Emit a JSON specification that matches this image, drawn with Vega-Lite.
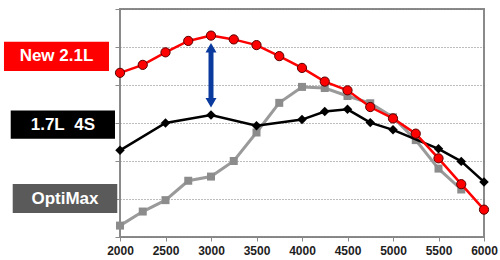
{
  "$schema": "https://vega.github.io/schema/vega-lite/v6.json",
  "width": 364,
  "height": 228,
  "autosize": {"type": "none"},
  "padding": {"left": 120, "top": 9, "right": 16, "bottom": 23},
  "background": "white",
  "config": {
    "font": "Liberation Sans",
    "view": {"stroke": "#8a8a8a", "strokeWidth": 2}
  },
  "datasets": {
    "red": [
      {"rpm": 2000, "v": 4.32}, {"rpm": 2250, "v": 4.53}, {"rpm": 2500, "v": 4.86},
      {"rpm": 2750, "v": 5.16}, {"rpm": 3000, "v": 5.30}, {"rpm": 3250, "v": 5.20},
      {"rpm": 3500, "v": 5.05}, {"rpm": 3750, "v": 4.76}, {"rpm": 4000, "v": 4.45},
      {"rpm": 4250, "v": 4.09}, {"rpm": 4500, "v": 3.86}, {"rpm": 4750, "v": 3.42},
      {"rpm": 5000, "v": 3.12}, {"rpm": 5250, "v": 2.72}, {"rpm": 5500, "v": 2.07},
      {"rpm": 5750, "v": 1.39}, {"rpm": 6000, "v": 0.72}
    ],
    "black": [
      {"rpm": 2000, "v": 2.28}, {"rpm": 2500, "v": 3.0}, {"rpm": 3000, "v": 3.21},
      {"rpm": 3500, "v": 2.93}, {"rpm": 4000, "v": 3.09}, {"rpm": 4250, "v": 3.30},
      {"rpm": 4500, "v": 3.36}, {"rpm": 4750, "v": 3.01}, {"rpm": 5000, "v": 2.82},
      {"rpm": 5500, "v": 2.32}, {"rpm": 5750, "v": 1.99}, {"rpm": 6000, "v": 1.45}
    ],
    "gray": [
      {"rpm": 2000, "v": 0.30}, {"rpm": 2250, "v": 0.67}, {"rpm": 2500, "v": 0.97},
      {"rpm": 2750, "v": 1.48}, {"rpm": 3000, "v": 1.59}, {"rpm": 3250, "v": 2.0},
      {"rpm": 3500, "v": 2.75}, {"rpm": 3750, "v": 3.53}, {"rpm": 4000, "v": 3.95},
      {"rpm": 4250, "v": 3.92}, {"rpm": 4500, "v": 3.71}, {"rpm": 4750, "v": 3.52},
      {"rpm": 5000, "v": 3.15}, {"rpm": 5250, "v": 2.55}, {"rpm": 5500, "v": 1.80},
      {"rpm": 5750, "v": 1.25}
    ],
    "labels": [
      {"label": "New 2.1L", "color": "#ff0000", "x1": 725, "x2": 1879, "y1": 5.136, "y2": 4.37, "xc": 1302, "yc": 4.753},
      {"label": "1.7L\u00a0 4S", "color": "#000000", "x1": 799, "x2": 1945, "y1": 3.331, "y2": 2.583, "xc": 1372, "yc": 2.957},
      {"label": "OptiMax", "color": "#5a5a5a", "x1": 821, "x2": 1970, "y1": 1.393, "y2": 0.634, "xc": 1395, "yc": 1.013}
    ],
    "arrowShaft": [{"rpm": 3000, "top": 4.9, "bottom": 3.57}],
    "arrowHeads": [
      {"rpm": 3000, "v": 4.98, "dir": "up"},
      {"rpm": 3000, "v": 3.53, "dir": "down"}
    ]
  },
  "layer": [
    {
      "data": {"name": "gray"},
      "mark": {"type": "line", "color": "#9a9a9a", "strokeWidth": 3},
      "encoding": {
        "x": {
          "field": "rpm", "type": "quantitative",
          "scale": {"domain": [2000, 6000], "nice": false, "zero": false},
          "axis": {
            "values": [2000, 2500, 3000, 3500, 4000, 4500, 5000, 5500, 6000],
            "tickCount": 9,
            "format": "d",
            "title": null, "grid": false, "domain": false,
            "ticks": true, "tickSize": 4, "tickColor": "#8a8a8a",
            "labelFont": "Liberation Sans", "labelFontWeight": "bold",
            "labelFontSize": 12, "labelColor": "#1e1e1e", "labelPadding": 4,
            "labelFlush": false, "labelOverlap": false
          }
        },
        "y": {
          "field": "v", "type": "quantitative",
          "scale": {"domain": [0, 6], "nice": false},
          "axis": {
            "values": [0, 1, 2, 3, 4, 5, 6],
            "tickCount": 7,
            "format": "d",
            "title": null, "labels": false, "domain": false,
            "labelOverlap": false,
            "grid": true, "gridColor": "#7a7a7a", "gridDash": [1, 2], "gridWidth": 1, "gridOpacity": 1,
            "ticks": true, "tickSize": 5, "tickColor": "#8a8a8a"
          }
        }
      }
    },
    {
      "data": {"name": "gray"},
      "mark": {"type": "point", "shape": "square", "filled": true, "color": "#8c8c8c", "size": 64, "opacity": 1},
      "encoding": {
        "x": {"field": "rpm", "type": "quantitative"},
        "y": {"field": "v", "type": "quantitative"}
      }
    },
    {
      "data": {"name": "black"},
      "mark": {"type": "line", "color": "#000000", "strokeWidth": 2.5},
      "encoding": {
        "x": {"field": "rpm", "type": "quantitative"},
        "y": {"field": "v", "type": "quantitative"}
      }
    },
    {
      "data": {"name": "black"},
      "mark": {"type": "point", "shape": "diamond", "filled": true, "color": "#000000", "size": 90, "opacity": 1},
      "encoding": {
        "x": {"field": "rpm", "type": "quantitative"},
        "y": {"field": "v", "type": "quantitative"}
      }
    },
    {
      "data": {"name": "red"},
      "mark": {"type": "line", "color": "#ff0000", "strokeWidth": 2.5},
      "encoding": {
        "x": {"field": "rpm", "type": "quantitative"},
        "y": {"field": "v", "type": "quantitative"}
      }
    },
    {
      "data": {"name": "red"},
      "mark": {"type": "point", "shape": "circle", "filled": true, "fill": "#ff0000", "stroke": "#5a0000", "strokeWidth": 1, "size": 85, "opacity": 1},
      "encoding": {
        "x": {"field": "rpm", "type": "quantitative"},
        "y": {"field": "v", "type": "quantitative"}
      }
    },
    {
      "data": {"name": "arrowShaft"},
      "mark": {"type": "rule", "color": "#0b3a9e", "strokeWidth": 5},
      "encoding": {
        "x": {"field": "rpm", "type": "quantitative"},
        "y": {"field": "top", "type": "quantitative"},
        "y2": {"field": "bottom"}
      }
    },
    {
      "data": {"name": "arrowHeads"},
      "mark": {"type": "point", "filled": true, "color": "#0b3a9e", "size": 121, "opacity": 1},
      "encoding": {
        "x": {"field": "rpm", "type": "quantitative"},
        "y": {"field": "v", "type": "quantitative"},
        "shape": {
          "field": "dir", "type": "nominal",
          "scale": {"domain": ["up", "down"], "range": ["triangle-up", "triangle-down"]},
          "legend": null
        }
      }
    },
    {
      "data": {"name": "labels"},
      "mark": {"type": "rect", "clip": false},
      "encoding": {
        "x": {"field": "x1", "type": "quantitative"},
        "x2": {"field": "x2"},
        "y": {"field": "y1", "type": "quantitative"},
        "y2": {"field": "y2"},
        "color": {"field": "color", "type": "nominal", "scale": null}
      }
    },
    {
      "data": {"name": "labels"},
      "mark": {"type": "text", "color": "white", "font": "Liberation Sans", "fontWeight": "bold", "fontSize": 17, "align": "center", "baseline": "middle"},
      "encoding": {
        "x": {"field": "xc", "type": "quantitative"},
        "y": {"field": "yc", "type": "quantitative"},
        "text": {"field": "label"}
      }
    }
  ]
}
